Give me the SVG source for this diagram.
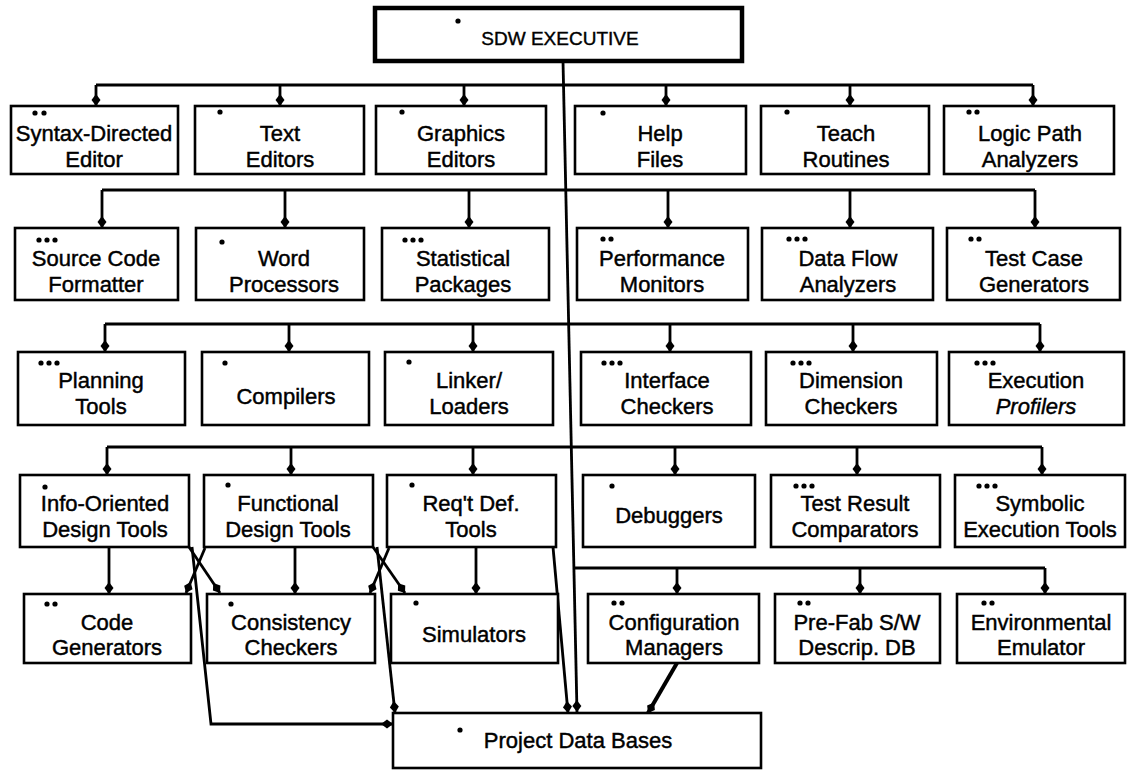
<svg xmlns="http://www.w3.org/2000/svg" width="1139" height="777" viewBox="0 0 1139 777">
<style>
.bx{fill:#fff;stroke:#000;stroke-width:2.6}
.ex{fill:#fff;stroke:#000;stroke-width:4.5}
.t{font-family:"Liberation Sans",Arial,sans-serif;font-size:22px;text-anchor:middle;fill:#000;stroke:#000;stroke-width:0.45}
.tt{font-family:"Liberation Sans",Arial,sans-serif;font-size:19px;text-anchor:middle;fill:#000;stroke:#000;stroke-width:0.4}
.c{fill:none;stroke:#000;stroke-width:2.8;stroke-linejoin:round}
.a{fill:none;stroke:#000;stroke-width:2.8;marker-end:url(#ah)}
.d{fill:#000}
</style>
<defs>
<marker id="ah" markerUnits="userSpaceOnUse" markerWidth="14" markerHeight="12" refX="12" refY="6" orient="auto">
<path d="M0,6 L6,1.5 L12,6 L6,10.5 Z" fill="#000"/>
</marker>
</defs>
<rect width="1139" height="777" fill="#fff"/>

<g id="connectors">
<path class="a" d="M563,61 L577,712"/>
<path class="c" d="M96,85 H1033"/>
<path class="a" d="M96,85 V106"/><path class="a" d="M280,85 V106"/><path class="a" d="M464,85 V106"/>
<path class="a" d="M666,85 V106"/><path class="a" d="M850,85 V106"/><path class="a" d="M1033,85 V106"/>
<path class="c" d="M102,190 H1035"/>
<path class="a" d="M102,190 V228"/><path class="a" d="M285,190 V228"/><path class="a" d="M469,190 V228"/>
<path class="a" d="M668,190 V228"/><path class="a" d="M850,190 V228"/><path class="a" d="M1035,190 V228"/>
<path class="c" d="M105,324 H1040"/>
<path class="a" d="M105,324 V352"/><path class="a" d="M289,324 V352"/><path class="a" d="M473,324 V352"/>
<path class="a" d="M670,324 V352"/><path class="a" d="M853,324 V352"/><path class="a" d="M1040,324 V352"/>
<path class="c" d="M107,447 H1042"/>
<path class="a" d="M107,447 V475"/><path class="a" d="M291,447 V475"/><path class="a" d="M473,447 V475"/>
<path class="a" d="M675,447 V475"/><path class="a" d="M857,447 V475"/><path class="a" d="M1042,447 V475"/>
<path class="c" d="M574,568 H1045"/>
<path class="a" d="M677,568 V594"/><path class="a" d="M860,568 V594"/><path class="a" d="M1045,568 V594"/>
<path class="a" d="M109,547 V594"/><path class="a" d="M295,547 V594"/><path class="a" d="M476,547 V594"/>
<path class="a" d="M189,547 L220,593"/>
<path class="a" d="M205,548 L186,593"/>
<path class="a" d="M373,547 L405,593"/>
<path class="a" d="M389,548 L370,593"/>
<path class="a" d="M192,547 L211,724 H393"/>
<path class="a" d="M377,547 L395,713"/>
<path class="a" d="M553,547 L568,713"/>
<path class="a" d="M677,663 L648,713" style="stroke-width:4"/>
</g>

<g id="sdw-executive">
<rect class="ex" x="375" y="8" width="367" height="53"/>
<circle class="d" cx="458" cy="21" r="2.6"/>
<text class="tt" x="560" y="45">SDW EXECUTIVE</text>
</g>

<g id="syntax-directed-editor">
<rect class="bx" x="11" y="106" width="167" height="68"/>
<circle class="d" cx="35" cy="113" r="2.6"/><circle class="d" cx="44" cy="113" r="2.6"/>
<text class="t" x="94" y="141">Syntax-Directed</text><text class="t" x="94" y="167">Editor</text>
</g>
<g id="text-editors">
<rect class="bx" x="195" y="106" width="169" height="68"/>
<circle class="d" cx="220" cy="112" r="2.6"/>
<text class="t" x="280" y="141">Text</text><text class="t" x="280" y="167">Editors</text>
</g>
<g id="graphics-editors">
<rect class="bx" x="376" y="106" width="170" height="68"/>
<circle class="d" cx="402" cy="112" r="2.6"/>
<text class="t" x="461" y="141">Graphics</text><text class="t" x="461" y="167">Editors</text>
</g>
<g id="help-files">
<rect class="bx" x="575" y="106" width="171" height="68"/>
<circle class="d" cx="603" cy="113" r="2.6"/>
<text class="t" x="660" y="141">Help</text><text class="t" x="660" y="167">Files</text>
</g>
<g id="teach-routines">
<rect class="bx" x="761" y="106" width="168" height="68"/>
<circle class="d" cx="787" cy="112" r="2.6"/>
<text class="t" x="846" y="141">Teach</text><text class="t" x="846" y="167">Routines</text>
</g>
<g id="logic-path-analyzers">
<rect class="bx" x="944" y="106" width="170" height="68"/>
<circle class="d" cx="969" cy="112" r="2.6"/><circle class="d" cx="977" cy="112" r="2.6"/>
<text class="t" x="1030" y="141">Logic Path</text><text class="t" x="1030" y="167">Analyzers</text>
</g>

<g id="source-code-formatter">
<rect class="bx" x="15" y="228" width="163" height="72"/>
<circle class="d" cx="39" cy="240" r="2.6"/><circle class="d" cx="47" cy="240" r="2.6"/><circle class="d" cx="55" cy="240" r="2.6"/>
<text class="t" x="96" y="266">Source Code</text><text class="t" x="96" y="292">Formatter</text>
</g>
<g id="word-processors">
<rect class="bx" x="196" y="228" width="168" height="72"/>
<circle class="d" cx="222" cy="242" r="2.6"/>
<text class="t" x="284" y="266">Word</text><text class="t" x="284" y="292">Processors</text>
</g>
<g id="statistical-packages">
<rect class="bx" x="382" y="228" width="167" height="72"/>
<circle class="d" cx="405" cy="240" r="2.6"/><circle class="d" cx="413" cy="240" r="2.6"/><circle class="d" cx="421" cy="240" r="2.6"/>
<text class="t" x="463" y="266">Statistical</text><text class="t" x="463" y="292">Packages</text>
</g>
<g id="performance-monitors">
<rect class="bx" x="577" y="228" width="171" height="72"/>
<circle class="d" cx="603" cy="239" r="2.6"/><circle class="d" cx="611" cy="239" r="2.6"/>
<text class="t" x="662" y="266">Performance</text><text class="t" x="662" y="292">Monitors</text>
</g>
<g id="data-flow-analyzers">
<rect class="bx" x="762" y="228" width="171" height="72"/>
<circle class="d" cx="789" cy="239" r="2.6"/><circle class="d" cx="797" cy="239" r="2.6"/><circle class="d" cx="805" cy="239" r="2.6"/>
<text class="t" x="848" y="266">Data Flow</text><text class="t" x="848" y="292">Analyzers</text>
</g>
<g id="test-case-generators">
<rect class="bx" x="947" y="228" width="173" height="72"/>
<circle class="d" cx="971" cy="239" r="2.6"/><circle class="d" cx="979" cy="239" r="2.6"/>
<text class="t" x="1034" y="266">Test Case</text><text class="t" x="1034" y="292">Generators</text>
</g>

<g id="planning-tools">
<rect class="bx" x="18" y="352" width="167" height="73"/>
<circle class="d" cx="41" cy="363" r="2.6"/><circle class="d" cx="49" cy="363" r="2.6"/><circle class="d" cx="57" cy="363" r="2.6"/>
<text class="t" x="101" y="388">Planning</text><text class="t" x="101" y="414">Tools</text>
</g>
<g id="compilers">
<rect class="bx" x="202" y="352" width="167" height="73"/>
<circle class="d" cx="225" cy="363" r="2.6"/>
<text class="t" x="286" y="404">Compilers</text>
</g>
<g id="linker-loaders">
<rect class="bx" x="385" y="352" width="168" height="73"/>
<circle class="d" cx="409" cy="362" r="2.6"/>
<text class="t" x="469" y="388">Linker/</text><text class="t" x="469" y="414">Loaders</text>
</g>
<g id="interface-checkers">
<rect class="bx" x="581" y="352" width="170" height="73"/>
<circle class="d" cx="604" cy="363" r="2.6"/><circle class="d" cx="612" cy="363" r="2.6"/><circle class="d" cx="620" cy="363" r="2.6"/>
<text class="t" x="667" y="388">Interface</text><text class="t" x="667" y="414">Checkers</text>
</g>
<g id="dimension-checkers">
<rect class="bx" x="766" y="352" width="171" height="73"/>
<circle class="d" cx="793" cy="363" r="2.6"/><circle class="d" cx="801" cy="363" r="2.6"/><circle class="d" cx="809" cy="363" r="2.6"/>
<text class="t" x="851" y="388">Dimension</text><text class="t" x="851" y="414">Checkers</text>
</g>
<g id="execution-profilers">
<rect class="bx" x="949" y="352" width="175" height="73"/>
<circle class="d" cx="977" cy="363" r="2.6"/><circle class="d" cx="985" cy="363" r="2.6"/><circle class="d" cx="993" cy="363" r="2.6"/>
<text class="t" x="1036" y="388">Execution</text><text class="t" x="1036" y="414" font-style="italic">Profilers</text>
</g>

<g id="info-oriented-design-tools">
<rect class="bx" x="20" y="475" width="169" height="72"/>
<circle class="d" cx="45" cy="487" r="2.6"/>
<text class="t" x="105" y="511">Info-Oriented</text><text class="t" x="105" y="537">Design Tools</text>
</g>
<g id="functional-design-tools">
<rect class="bx" x="204" y="475" width="169" height="72"/>
<circle class="d" cx="228" cy="485" r="2.6"/>
<text class="t" x="288" y="511">Functional</text><text class="t" x="288" y="537">Design Tools</text>
</g>
<g id="reqt-def-tools">
<rect class="bx" x="387" y="475" width="169" height="72"/>
<circle class="d" cx="412" cy="485" r="2.6"/>
<text class="t" x="471" y="511">Req't Def.</text><text class="t" x="471" y="537">Tools</text>
</g>
<g id="debuggers">
<rect class="bx" x="583" y="475" width="172" height="72"/>
<circle class="d" cx="612" cy="486" r="2.6"/>
<text class="t" x="669" y="523">Debuggers</text>
</g>
<g id="test-result-comparators">
<rect class="bx" x="771" y="475" width="169" height="72"/>
<circle class="d" cx="796" cy="486" r="2.6"/><circle class="d" cx="804" cy="486" r="2.6"/><circle class="d" cx="812" cy="486" r="2.6"/>
<text class="t" x="855" y="511">Test Result</text><text class="t" x="855" y="537">Comparators</text>
</g>
<g id="symbolic-execution-tools">
<rect class="bx" x="955" y="475" width="170" height="72"/>
<circle class="d" cx="979" cy="486" r="2.6"/><circle class="d" cx="987" cy="486" r="2.6"/><circle class="d" cx="995" cy="486" r="2.6"/>
<text class="t" x="1040" y="511">Symbolic</text><text class="t" x="1040" y="537">Execution Tools</text>
</g>

<g id="code-generators">
<rect class="bx" x="24" y="594" width="167" height="69"/>
<circle class="d" cx="47" cy="604" r="2.6"/><circle class="d" cx="55" cy="604" r="2.6"/>
<text class="t" x="107" y="630">Code</text><text class="t" x="107" y="655">Generators</text>
</g>
<g id="consistency-checkers">
<rect class="bx" x="207" y="594" width="168" height="69"/>
<circle class="d" cx="231" cy="604" r="2.6"/>
<text class="t" x="291" y="630">Consistency</text><text class="t" x="291" y="655">Checkers</text>
</g>
<g id="simulators">
<rect class="bx" x="391" y="594" width="167" height="69"/>
<circle class="d" cx="416" cy="603" r="2.6"/>
<text class="t" x="474" y="642">Simulators</text>
</g>
<g id="configuration-managers">
<rect class="bx" x="588" y="594" width="171" height="69"/>
<circle class="d" cx="614" cy="603" r="2.6"/><circle class="d" cx="622" cy="603" r="2.6"/>
<text class="t" x="674" y="630">Configuration</text><text class="t" x="674" y="655">Managers</text>
</g>
<g id="pre-fab-sw-descrip-db">
<rect class="bx" x="775" y="594" width="165" height="69"/>
<circle class="d" cx="800" cy="603" r="2.6"/><circle class="d" cx="808" cy="603" r="2.6"/>
<text class="t" x="857" y="630">Pre-Fab S/W</text><text class="t" x="857" y="655">Descrip. DB</text>
</g>
<g id="environmental-emulator">
<rect class="bx" x="957" y="594" width="168" height="69"/>
<circle class="d" cx="984" cy="603" r="2.6"/><circle class="d" cx="992" cy="603" r="2.6"/>
<text class="t" x="1041" y="630">Environmental</text><text class="t" x="1041" y="655">Emulator</text>
</g>

<g id="project-data-bases">
<rect class="bx" x="393" y="713" width="368" height="55"/>
<circle class="d" cx="460" cy="730" r="2.6"/>
<text class="t" x="578" y="748">Project Data Bases</text>
</g>
</svg>
